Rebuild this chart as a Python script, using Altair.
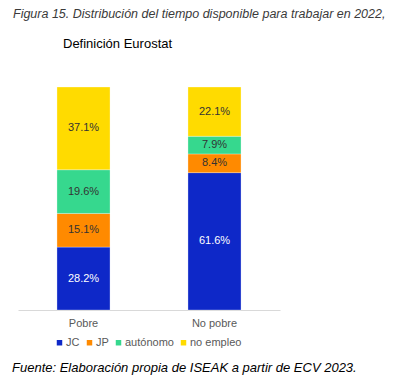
import altair as alt
import pandas as pd

categories = ["Pobre", "No pobre"]
series = ["JC", "JP", "autónomo", "no empleo"]
pobre = [28.2, 15.1, 19.6, 37.1]
no_pobre = [61.6, 8.4, 7.9, 22.1]
colors = ["#0E28C8", "#FF8A00", "#36D88E", "#FFDB00"]
label_colors = ["#FFFFFF", "#333333", "#333333", "#333333"]

title_text = "Figura 15. Distribución del tiempo disponible para trabajar en 2022,"
subtitle_text = "Definición Eurostat"
footer_text = "Fuente: Elaboración propia de ISEAK a partir de ECV 2023."

rows = []
for cat, vals in zip(categories, [pobre, no_pobre]):
    for i, (s, v) in enumerate(zip(series, vals)):
        rows.append({"category": cat, "series": s, "value": v, "order": i,
                     "lcolor": label_colors[i]})
df = pd.DataFrame(rows)

FONT = "Liberation Sans"

x = alt.X("category:N", sort=categories, title=None,
          scale=alt.Scale(paddingInner=0.595, paddingOuter=0.2975),
          axis=alt.Axis(labelAngle=0, ticks=False, domainColor="#d9d9d9",
                        labelColor="#595959", labelFontSize=11, labelPadding=7,
                        labelFont=FONT))

base = alt.Chart(df)

bars = base.mark_bar(stroke="white", strokeWidth=0.5, strokeOpacity=0.6).encode(
    x=x,
    y=alt.Y("value:Q", stack="zero", scale=alt.Scale(domain=[0, 100]), axis=None),
    color=alt.Color("series:N", sort=series,
                    scale=alt.Scale(domain=series, range=colors),
                    legend=alt.Legend(title=None, orient="none", direction="horizontal",
                                      legendX=36, legendY=250, symbolType="square",
                                      symbolSize=30, symbolStrokeWidth=0,
                                      labelFontSize=11, labelColor="#595959",
                                      labelFont=FONT, labelOffset=1, columnPadding=4)),
    order=alt.Order("order:Q"),
)

labels = base.transform_window(
    cum="sum(value)", groupby=["category"], sort=[alt.SortField("order")],
    frame=[None, 0]
).transform_calculate(
    mid="datum.cum - datum.value / 2",
    txt="format(datum.value, '.1f') + '%'"
).mark_text(fontSize=11, font=FONT, baseline="middle").encode(
    x=alt.X("category:N", sort=categories),
    y=alt.Y("mid:Q"),
    text="txt:N",
    color=alt.Color("lcolor:N", scale=None),
)

title = alt.Chart(pd.DataFrame({"t": [title_text]})).mark_text(
    align="left", baseline="alphabetic", fontSize=12.5, fontStyle="italic",
    font=FONT, color="#3a3a3a"
).encode(x=alt.value(-5), y=alt.value(-69), text="t:N")

subtitle = alt.Chart(pd.DataFrame({"t": [subtitle_text]})).mark_text(
    align="left", baseline="alphabetic", fontSize=13, font=FONT, color="#000000"
).encode(x=alt.value(45), y=alt.value(-39), text="t:N")

footer = alt.Chart(pd.DataFrame({"t": [footer_text]})).mark_text(
    align="left", baseline="alphabetic", fontSize=13, fontStyle="italic",
    font=FONT, color="#000000"
).encode(x=alt.value(-6), y=alt.value(285), text="t:N")

chart = alt.layer(bars, labels, title, subtitle, footer).properties(
    width=262, height=223,
    autosize=alt.AutoSizeParams(type="none"),
    padding={"left": 10, "top": 79, "right": 110, "bottom": 68},
).configure_view(stroke=None).resolve_scale(color="independent")

chart.save("out.html", embed_options={"renderer": "svg", "actions": False})
